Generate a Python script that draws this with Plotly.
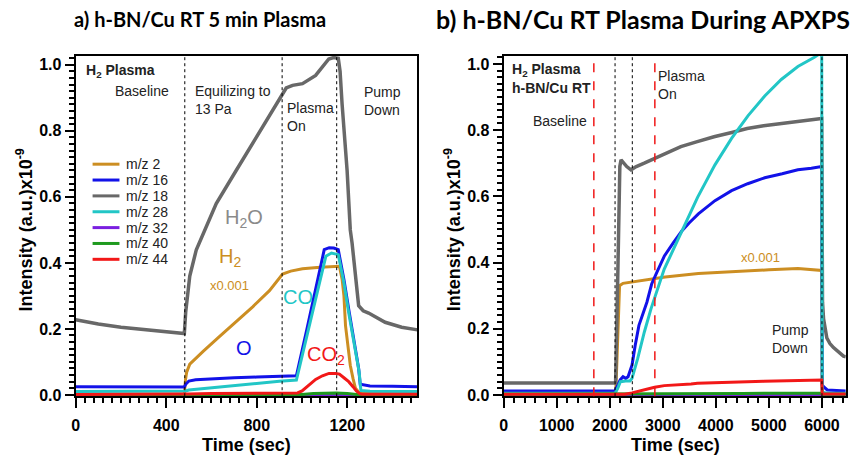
import plotly.graph_objects as go

# ---------------- DATA ----------------
series_names = ["m/z 2", "m/z 16", "m/z 18", "m/z 28", "m/z 32", "m/z 40", "m/z 44"]
series_colors = ["#CC8E22", "#1212E8", "#686868", "#22C6C6", "#7A1FE0", "#1E9A1E", "#F21818"]
series_widths = [3, 3, 3.5, 3, 3, 3, 3]

# Panel a) h-BN/Cu RT 5 min Plasma  (time in sec, intensity in a.u. x1e-9)
ta_m2 = [0, 480, 485, 490, 504, 563, 636, 709, 782, 856, 914, 950, 1002, 1080, 1149, 1165, 1177, 1185, 1192, 1203, 1213, 1225, 1236, 1250, 1265, 1510]
va_m2 = [0.002, 0.002, 0.045, 0.068, 0.093, 0.132, 0.177, 0.222, 0.267, 0.316, 0.366, 0.375, 0.382, 0.387, 0.391, 0.39, 0.35, 0.30, 0.21, 0.14, 0.09, 0.05, 0.02, 0.008, 0.004, 0.003]

ta_m16 = [0, 480, 486, 500, 530, 600, 700, 800, 900, 975, 1020, 1060, 1098, 1120, 1140, 1160, 1185, 1206, 1230, 1250, 1257, 1300, 1400, 1510]
va_m16 = [0.025, 0.024, 0.032, 0.042, 0.046, 0.049, 0.052, 0.054, 0.056, 0.058, 0.195, 0.32, 0.44, 0.446, 0.445, 0.44, 0.35, 0.26, 0.16, 0.08, 0.032, 0.027, 0.026, 0.025]

ta_m18 = [0, 100, 200, 300, 400, 480, 486, 493, 504, 533, 563, 621, 709, 797, 885, 914, 930, 958, 1002, 1060, 1089, 1118, 1140, 1160, 1168, 1177, 1199, 1213, 1221, 1236, 1250, 1270, 1294, 1367, 1440, 1510]
va_m18 = [0.228, 0.215, 0.205, 0.198, 0.192, 0.186, 0.25, 0.30, 0.36, 0.44, 0.49, 0.58, 0.68, 0.78, 0.877, 0.91, 0.93, 0.938, 0.943, 0.968, 0.994, 1.018, 1.022, 1.02, 0.98, 0.88, 0.68, 0.50, 0.46, 0.36, 0.27, 0.255, 0.248, 0.22, 0.205, 0.197]

ta_m28 = [0, 480, 486, 500, 600, 700, 800, 900, 975, 1020, 1060, 1105, 1130, 1160, 1185, 1206, 1230, 1252, 1260, 1300, 1510]
va_m28 = [0.01, 0.01, 0.012, 0.015, 0.022, 0.029, 0.035, 0.041, 0.045, 0.17, 0.29, 0.42, 0.43, 0.425, 0.34, 0.25, 0.15, 0.07, 0.013, 0.011, 0.01]

ta_m32 = [0, 1510]
va_m32 = [0.0005, 0.0005]

ta_m40 = [0, 1000, 1050, 1100, 1150, 1200, 1240, 1510]
va_m40 = [0.001, 0.001, 0.004, 0.006, 0.006, 0.004, 0.001, 0.001]

ta_m44 = [0, 480, 500, 600, 800, 980, 1000, 1030, 1060, 1090, 1119, 1150, 1165, 1185, 1206, 1225, 1240, 1255, 1265, 1510]
va_m44 = [0.001, 0.001, 0.003, 0.004, 0.005, 0.006, 0.012, 0.03, 0.047, 0.058, 0.065, 0.065, 0.063, 0.052, 0.04, 0.025, 0.012, 0.004, 0.002, 0.002]

events_a = [482, 912, 1153]

# Panel b) h-BN/Cu RT Plasma During APXPS
tb_m2 = [0, 2110, 2130, 2150, 2170, 2185, 2250, 2500, 3045, 3670, 4296, 5000, 5546, 5950, 5995, 6005, 6450]
vb_m2 = [0.002, 0.002, 0.08, 0.2, 0.3, 0.33, 0.337, 0.343, 0.356, 0.367, 0.373, 0.378, 0.382, 0.378, 0.376, 0.002, 0.002]

tb_m16 = [0, 2100, 2150, 2200, 2250, 2300, 2345, 2420, 2480, 2550, 2700, 2790, 2900, 3030, 3200, 3358, 3500, 3670, 3983, 4296, 4600, 4921, 5250, 5546, 5800, 5995, 6005, 6030, 6100, 6300, 6450]
vb_m16 = [0.012, 0.012, 0.03, 0.046, 0.055, 0.05, 0.055, 0.09, 0.15, 0.21, 0.28, 0.335, 0.375, 0.42, 0.46, 0.495, 0.52, 0.547, 0.587, 0.617, 0.638, 0.656, 0.668, 0.68, 0.685, 0.69, 0.03, 0.025, 0.015, 0.013, 0.012]

tb_m18 = [0, 500, 1000, 1500, 2000, 2110, 2150, 2190, 2213, 2260, 2320, 2400, 2500, 2650, 2850, 3100, 3340, 3650, 3965, 4300, 4590, 4900, 5215, 5550, 5900, 5995, 6010, 6030, 6092, 6150, 6217, 6300, 6405, 6450]
vb_m18 = [0.036, 0.036, 0.035, 0.036, 0.035, 0.036, 0.35, 0.69, 0.71, 0.70, 0.69, 0.68, 0.69, 0.70, 0.715, 0.733, 0.75, 0.765, 0.78, 0.793, 0.805, 0.813, 0.82, 0.827, 0.834, 0.835, 0.28, 0.23, 0.172, 0.155, 0.143, 0.13, 0.117, 0.115]

tb_m28 = [0, 2100, 2150, 2200, 2300, 2380, 2420, 2527, 2652, 2777, 3027, 3402, 3655, 3983, 4296, 4608, 4921, 5233, 5546, 5858, 5995, 6005, 6100, 6450]
vb_m28 = [0.005, 0.005, 0.02, 0.04, 0.042, 0.042, 0.05, 0.11, 0.19, 0.26, 0.38, 0.507, 0.597, 0.695, 0.775, 0.844, 0.903, 0.953, 0.992, 1.02, 1.035, 0.008, 0.005, 0.005]

tb_m32 = [0, 6450]
vb_m32 = [0.0005, 0.0005]

tb_m40 = [0, 4000, 4500, 5000, 5995, 6005, 6450]
vb_m40 = [0.002, 0.002, 0.004, 0.005, 0.005, 0.002, 0.002]

tb_m44 = [0, 2280, 2420, 2550, 2714, 2846, 3027, 3533, 3652, 4903, 5936, 5995, 6005, 6450]
vb_m44 = [0.002, 0.002, 0.006, 0.012, 0.018, 0.023, 0.028, 0.033, 0.035, 0.041, 0.045, 0.045, 0.003, 0.003]

events_b_red = [1700, 2850]
events_b_black = [2100, 2425, 6000]

# ---------------- FIGURE ----------------
W, H = 854, 463
FONT = "Liberation Sans, Arial, sans-serif"

def px_x(p):
    return p / W

def px_y(p):
    return 1 - p / H

fig = go.Figure()

panel_a = [(ta_m2, va_m2), (ta_m16, va_m16), (ta_m18, va_m18), (ta_m28, va_m28),
           (ta_m32, va_m32), (ta_m40, va_m40), (ta_m44, va_m44)]
panel_b = [(tb_m2, vb_m2), (tb_m16, vb_m16), (tb_m18, vb_m18), (tb_m28, vb_m28),
           (tb_m32, vb_m32), (tb_m40, vb_m40), (tb_m44, vb_m44)]

for (t, v), name, col, lw in zip(panel_a, series_names, series_colors, series_widths):
    fig.add_trace(go.Scatter(x=t, y=v, mode="lines", name=name, showlegend=False,
                             line=dict(color=col, width=lw), xaxis="x", yaxis="y"))
for (t, v), name, col, lw in zip(panel_b, series_names, series_colors, series_widths):
    fig.add_trace(go.Scatter(x=t, y=v, mode="lines", name=name, showlegend=False,
                             line=dict(color=col, width=lw), xaxis="x2", yaxis="y2"))

ydom = [px_y(402.3), px_y(56.5)]
tickfont = dict(family=FONT, size=16, color="black", weight="bold")

def xax(domain, rng, dtick, minor_dtick, anchor):
    return dict(domain=domain, range=rng, anchor=anchor, dtick=dtick, tick0=0,
                ticks="outside", ticklen=10, tickwidth=2, tickcolor="black",
                minor=dict(dtick=minor_dtick, tick0=0, ticks="outside", ticklen=5, tickwidth=1.5, tickcolor="black"),
                showline=True, linewidth=2, linecolor="black", mirror=True,
                showgrid=False, zeroline=False, tickfont=tickfont, ticklabelstandoff=4)

def yax(rng, anchor):
    return dict(domain=ydom, range=rng, anchor=anchor, dtick=0.2, tick0=0, tickformat=".1f",
                ticks="outside", ticklen=9, tickwidth=2, tickcolor="black",
                minor=dict(dtick=0.02, tick0=0, ticks="outside", ticklen=5, tickwidth=1.5, tickcolor="black"),
                showline=True, linewidth=2, linecolor="black", mirror=True,
                showgrid=False, zeroline=False, tickfont=tickfont, ticklabelstandoff=0)

fig.update_layout(
    width=W, height=H, margin=dict(l=0, r=0, t=0, b=0),
    paper_bgcolor="white", plot_bgcolor="white", showlegend=False,
    xaxis=xax([px_x(72), px_x(415)], [0, 1508], 400, 40, "y"),
    yaxis=yax([-0.004, 1.028], "x"),
    xaxis2=xax([px_x(502), px_x(845.7)], [0, 6448], 1000, 200, "y2"),
    yaxis2=yax([-0.004, 1.025], "x2"),
)

shapes = []
for t in events_a:
    shapes.append(dict(type="line", xref="x", yref="y domain", x0=t, x1=t, y0=0, y1=1,
                       line=dict(color="black", width=1, dash="dot"), layer="above"))
for t in events_b_black:
    shapes.append(dict(type="line", xref="x2", yref="y2 domain", x0=t, x1=t, y0=0, y1=1,
                       line=dict(color="black", width=1, dash="dot"), layer="above"))
for t in events_b_red:
    shapes.append(dict(type="line", xref="x2", yref="y2 domain", x0=t, x1=t, y0=0, y1=1,
                       line=dict(color="#F01818", width=1.5, dash="dash"), layer="above"))

# manual legend (left panel)
ann = []
for i, (name, col) in enumerate(zip(series_names, series_colors)):
    yc = 166.7 + i * 16.1
    shapes.append(dict(type="line", xref="paper", yref="paper", x0=px_x(89), x1=px_x(116),
                       y0=px_y(yc), y1=px_y(yc), line=dict(color=col, width=3)))
    ann.append(dict(text=name, xref="paper", yref="paper", x=px_x(121), y=px_y(yc),
                    xanchor="left", yanchor="middle", showarrow=False,
                    font=dict(family=FONT, size=14, color="#222")))
fig.update_layout(shapes=shapes)

def a(text, x, y, xr, yr, size=14, color="#222", bold=False, xanchor="center", align="center", family=FONT):
    f = dict(family=family, size=size, color=color)
    if bold:
        f["weight"] = "bold"
    ann.append(dict(text=text, x=x, y=y, xref=xr, yref=yr, showarrow=False, font=f,
                    xanchor=xanchor, yanchor="middle", align=align))

# panel a texts
a("H<sub>2</sub> Plasma", 35, 0.982, "x", "y", bold=True, xanchor="left", align="left")
a("Baseline", 294, 0.92, "x", "y")
a("Equilizing to<br>13 Pa", 519, 0.893, "x", "y", xanchor="left", align="left")
a("Plasma<br>On", 925, 0.841, "x", "y", xanchor="left", align="left")
a("Pump<br>Down", 1266, 0.89, "x", "y", xanchor="left", align="left")
a("H<sub>2</sub>O", 743, 0.535, "x", "y", size=20, color="#8A8A8A")
a("H<sub>2</sub>", 681, 0.416, "x", "y", size=20, color="#CC8E22")
a("x0.001", 681, 0.331, "x", "y", size=13, color="#CC8E22")
a("CO", 984, 0.296, "x", "y", size=20, color="#22C6C6")
a("O", 742, 0.142, "x", "y", size=20, color="#1212E8")
a("CO<sub>2</sub>", 1106, 0.12, "x", "y", size=20, color="#F21818")

# panel b texts
a("H<sub>2</sub> Plasma", 118, 0.982, "x2", "y2", bold=True, xanchor="left", align="left")
a("h-BN/Cu RT", 118, 0.928, "x2", "y2", bold=True, xanchor="left", align="left")
a("Baseline", 1053, 0.829, "x2", "y2")
a("Plasma<br>On", 2877, 0.935, "x2", "y2", xanchor="left", align="left")
a("x0.001", 4840, 0.415, "x2", "y2", size=13, color="#CC8E22")
a("Pump<br>Down", 5028, 0.169, "x2", "y2", xanchor="left", align="left")

# axis titles and panel titles
a("Intensity (a.u.)x10<sup>-9</sup>", px_x(21), px_y(233), "paper", "paper", size=18, color="black", bold=True)
ann[-1]["textangle"] = -90
a("Intensity (a.u.)x10<sup>-9</sup>", px_x(451), px_y(233), "paper", "paper", size=18, color="black", bold=True)
ann[-1]["textangle"] = -90
a("Time (sec)", px_x(244), px_y(452), "paper", "paper", size=18, color="black", bold=True)
a("Time (sec)", px_x(674.5), px_y(452), "paper", "paper", size=18, color="black", bold=True)
a("a) h-BN/Cu RT 5 min Plasma", px_x(197), px_y(19), "paper", "paper", size=20, color="black", bold=True,
  family="Lato, sans-serif")
a("b) h-BN/Cu RT Plasma During APXPS", px_x(642), px_y(19), "paper", "paper", size=25, color="black", bold=True,
  family="Lato, sans-serif")

fig.update_layout(annotations=ann)
fig.write_html("out.html", config={"displayModeBar": False},
               post_script="document.body.style.margin='0';")
